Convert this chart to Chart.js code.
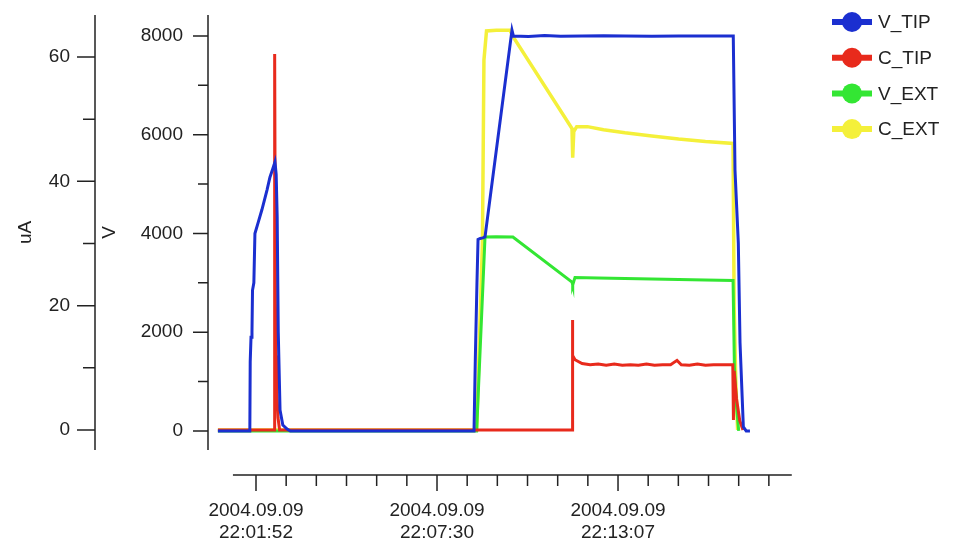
<!DOCTYPE html>
<html>
<head>
<meta charset="utf-8">
<script src="https://cdn.jsdelivr.net/npm/chart.js@4.4.1/dist/chart.umd.min.js"></script>
<style>
  html, body { margin: 0; padding: 0; background: #fff; }
  #wrap { width: 955px; height: 547px; }
</style>
</head>
<body>
<div id="wrap"><canvas id="chart" width="955" height="547"></canvas></div>
<script>
// tempo in secondi dopo le 22:00:00 del 2004.09.09
const vTipTime = [41, 100.5, 101.2, 102.7, 104.5, 105.5, 108, 110,
  115.7, 123, 132.5, 138, 143, 147.4,
  149.6, 151.5, 153.5, 156.8, 162, 170, 176,
  518.5, 521, 524, 526, 530, 535, 539,
  589.3, 592, 620, 650, 680, 720, 760, 800, 850, 900, 950,
  1001.9, 1005.1, 1011.3, 1014.5, 1020.7, 1026, 1033];
const vTipVolts = [0, 0, 1400, 1900, 2000, 2850, 3000, 4000,
  4210, 4480, 4880, 5140, 5300, 5450,
  5200, 4340, 2000, 425, 120, 40, 0,
  0, 1500, 3000, 3880, 3900, 3910, 3930,
  8120, 8000, 7990, 8010, 7995, 8000, 8005, 8000, 7995, 8000, 8000,
  8000, 5285, 3807, 1782, 81, 0, 0];

const cTipTime = [41, 145.6, 146.8, 148.2, 149.5, 151, 153, 156,
  701.2, 701.6, 703, 706.8,
  720, 735, 750, 765, 780, 795, 810, 825, 840, 855, 870, 885,
  897, 905, 920, 935, 950, 965, 980,
  1001, 1002.2, 1003.5, 1008, 1014, 1020];
const cTipMicroamps = [0, 0, 60.5, 20.4, 12, 6, 2, 0,
  0, 17.7, 12, 11.3,
  10.7, 10.5, 10.6, 10.4, 10.6, 10.4, 10.5, 10.4, 10.6, 10.4, 10.5, 10.5,
  11.2, 10.5, 10.4, 10.6, 10.4, 10.5, 10.5,
  10.5, 1.6, 9.5, 5, 1.5, 0];

const vExtTime = [41, 523.4, 539, 560, 591, 701.2, 702.5, 706.8,
  750, 800, 850, 900, 950, 1001.5, 1004, 1008, 1012];
const vExtVolts = [0, 0, 3930, 3935, 3930, 3017, 2956, 3110,
  3100, 3090, 3080, 3070, 3060, 3050, 1300, 500, 0];

const cExtTime = [41, 523.4, 534.2, 537, 541.8, 560, 585.6, 591,
  701.2, 702.5, 704.5, 710, 730, 760, 800, 850, 900, 950,
  1001.5, 1003.5, 1006.5, 1010];
const cExtMicroamps = [0, 0, 30.1, 59.5, 64.2, 64.3, 64.3, 63.3,
  48.5, 43.8, 48.0, 48.8, 48.8, 48.3, 47.8, 47.3, 46.8, 46.4,
  46.1, 20, 8, 0];

// assi
const xTickValues = [112, 449.5, 787];
const xTickLabels = [["2004.09.09", "22:01:52"], ["2004.09.09", "22:07:30"], ["2004.09.09", "22:13:07"]];
const xMinorStep = 56.25;
const xAxisFrom = 69;
const xAxisTo = 1111;
const uaTicks = [0, 20, 40, 60];
const uaMinor = [10, 30, 50];
const vTicks = [0, 2000, 4000, 6000, 8000];
const vMinor = [1000, 3000, 5000, 7000];

const FONT = '"Liberation Sans", Arial, Helvetica, sans-serif';
const INK = '#222';

function pts(xs, ys) {
  return xs.map((x, i) => ({ x: x, y: ys[i] }));
}

// assi in stile Igor: linee, tacche maggiori/minori e legenda
const igorAxes = {
  id: 'igorAxes',
  afterDraw(chart) {
    const ctx = chart.ctx;
    const area = chart.chartArea;
    const sx = chart.scales.x, sa = chart.scales.yA, sv = chart.scales.yV;
    ctx.save();
    ctx.strokeStyle = INK;
    ctx.lineWidth = 1.5;
    ctx.beginPath();

    const xa = sa.right;
    ctx.moveTo(xa, area.top); ctx.lineTo(xa, area.bottom);
    uaTicks.forEach(v => { const y = sa.getPixelForValue(v); ctx.moveTo(xa - 18, y); ctx.lineTo(xa, y); });
    uaMinor.forEach(v => { const y = sa.getPixelForValue(v); ctx.moveTo(xa - 12, y); ctx.lineTo(xa, y); });

    const xv = sv.right;
    ctx.moveTo(xv, area.top); ctx.lineTo(xv, area.bottom);
    vTicks.forEach(v => { const y = sv.getPixelForValue(v); ctx.moveTo(xv - 15, y); ctx.lineTo(xv, y); });
    vMinor.forEach(v => { const y = sv.getPixelForValue(v); ctx.moveTo(xv - 10, y); ctx.lineTo(xv, y); });

    // asse del tempo staccato sotto il grafico
    const yx = area.bottom + 25;
    ctx.moveTo(sx.getPixelForValue(xAxisFrom), yx);
    ctx.lineTo(sx.getPixelForValue(xAxisTo), yx);
    for (let k = 0; xTickValues[0] + k * xMinorStep <= xAxisTo; k++) {
      const px = sx.getPixelForValue(xTickValues[0] + k * xMinorStep);
      ctx.moveTo(px, yx);
      ctx.lineTo(px, yx + (k % 6 === 0 ? 16 : 11));
    }
    ctx.stroke();

    // legenda
    ctx.font = '19px ' + FONT;
    ctx.textBaseline = 'middle';
    chart.data.datasets.forEach((ds, i) => {
      const y = 22 + i * 35.7;
      ctx.strokeStyle = ds.borderColor;
      ctx.lineWidth = 6;
      ctx.beginPath();
      ctx.moveTo(832, y); ctx.lineTo(872, y);
      ctx.stroke();
      ctx.fillStyle = ds.borderColor;
      ctx.beginPath();
      ctx.arc(852, y, 10, 0, Math.PI * 2);
      ctx.fill();
      ctx.fillStyle = INK;
      ctx.fillText(ds.label, 878, y + 1);
    });
    ctx.restore();
  }
};

const tickFont = { family: FONT, size: 19, lineHeight: 1.16 };
// spazio per le tacche (disegnate dal plugin)
const hiddenGrid = { display: true, drawOnChartArea: false, drawTicks: true, tickLength: 25, tickColor: 'rgba(0,0,0,0)' };

const ctx = document.getElementById("chart").getContext("2d");
const chart = new Chart(ctx, {
  type: 'line',
  data: {
    datasets: [
      { label: 'V_TIP', data: pts(vTipTime, vTipVolts), yAxisID: 'yV', borderColor: '#1b2fd0', borderWidth: 3 },
      { label: 'C_TIP', data: pts(cTipTime, cTipMicroamps), yAxisID: 'yA', borderColor: '#e82a1c', borderWidth: 3 },
      { label: 'V_EXT', data: pts(vExtTime, vExtVolts), yAxisID: 'yV', borderColor: '#33e633', borderWidth: 3 },
      { label: 'C_EXT', data: pts(cExtTime, cExtMicroamps), yAxisID: 'yA', borderColor: '#f4f03a', borderWidth: 3.5 }
    ]
  },
  options: {
    responsive: false,
    animation: false,
    elements: { point: { radius: 0 }, line: { tension: 0 } },
    layout: { padding: { left: 10, right: 163, top: 15, bottom: 3 } },
    plugins: { legend: { display: false }, tooltip: { enabled: false } },
    scales: {
      x: {
        type: 'linear',
        position: 'bottom',
        min: 22.5,
        max: 1111.4,
        border: { display: false },
        grid: { display: false, drawTicks: false },
        afterBuildTicks: s => { s.ticks = xTickValues.map(v => ({ value: v })); },
        afterFit: s => { s.height = 94; },
        ticks: {
          padding: 50,
          autoSkip: false,
          maxRotation: 0,
          color: INK,
          font: tickFont,
          callback: v => xTickLabels[xTickValues.indexOf(v)]
        }
      },
      yA: {
        position: 'left',
        weight: 1,
        min: -3.22,
        max: 66.76,
        border: { display: false },
        grid: hiddenGrid,
        afterBuildTicks: s => { s.ticks = uaTicks.map(v => ({ value: v })); },
        afterFit: s => { s.width = 85; },
        ticks: { padding: 0, color: INK, font: tickFont, callback: v => String(v) },
        title: { display: true, text: 'uA', color: INK, font: tickFont, padding: { top: 5, bottom: 0 } }
      },
      yV: {
        position: 'left',
        weight: 0,
        min: -385,
        max: 8425,
        border: { display: false },
        grid: hiddenGrid,
        afterBuildTicks: s => { s.ticks = vTicks.map(v => ({ value: v })); },
        afterFit: s => { s.width = 113; },
        ticks: { padding: 0, color: INK, font: tickFont, callback: v => String(v) },
        title: { display: true, text: 'V', color: INK, font: tickFont, padding: { top: 4, bottom: 0 } }
      }
    }
  },
  plugins: [igorAxes]
});
</script>
</body>
</html>
